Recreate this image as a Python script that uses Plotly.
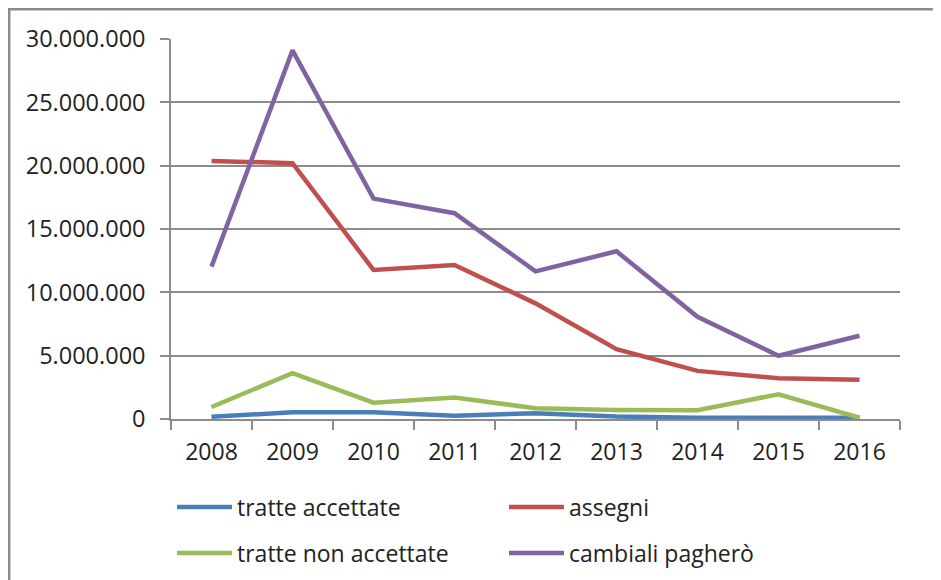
import plotly.graph_objects as go

years = ["2008", "2009", "2010", "2011", "2012", "2013", "2014", "2015", "2016"]
tratte_accettate = [180000, 530000, 530000, 260000, 450000, 200000, 100000, 100000, 100000]
assegni = [20370000, 20200000, 11770000, 12160000, 9130000, 5510000, 3800000, 3220000, 3090000]
tratte_non_accettate = [950000, 3620000, 1290000, 1690000, 850000, 710000, 690000, 1950000, 100000]
cambiali_paghero = [12030000, 29100000, 17400000, 16250000, 11660000, 13240000, 8070000, 4990000, 6570000]
y_ticks = [0, 5000000, 10000000, 15000000, 20000000, 25000000, 30000000]

series = [
    ("tratte accettate", tratte_accettate, "#4A7EBB", "legend"),
    ("assegni", assegni, "#C0504D", "legend"),
    ("tratte non accettate", tratte_non_accettate, "#9BBB59", "legend2"),
    ("cambiali pagherò", cambiali_paghero, "#8064A2", "legend2"),
]

FONT = "Open Sans, Liberation Sans, sans-serif"
TXT = "#222222"

fig = go.Figure()
for name, vals, col, lg in series:
    fig.add_trace(go.Scatter(x=years, y=vals, name=name, mode="lines",
                             line=dict(color=col, width=4.5), legend=lg))

# page body margin offsets the figure by 8px; positions below are in screen pixels
OFF = 8
W, H = 941, 580
L, R, T, B = 171 - OFF, 900 - OFF, 39 - OFF, 419 - OFF
pw, ph = R - L, B - T

def px(x):
    return (x - OFF - L) / pw

def py(y):
    return (B - (y - OFF)) / ph

legend_common = dict(orientation="h", xanchor="left", yanchor="middle",
                     font=dict(family=FONT, size=23, color=TXT),
                     entrywidth=262, entrywidthmode="pixels", itemwidth=55,
                     bgcolor="rgba(0,0,0,0)", borderwidth=0)

fig.update_layout(
    width=W, height=H,
    margin=dict(l=L, r=W - R, t=T, b=H - B, pad=0, autoexpand=False),
    paper_bgcolor="white", plot_bgcolor="white",
    separators=",.",
    font=dict(family=FONT, size=23, color=TXT),
    showlegend=True,
    legend=dict(x=px(172), y=py(507), **legend_common),
    legend2=dict(x=px(172), y=py(553), **legend_common),
    xaxis=dict(type="category", showgrid=False, showline=True, linecolor="#8C8C8C",
               linewidth=1.5, ticks="outside", tickson="boundaries", ticklen=9,
               tickcolor="#8C8C8C", tickwidth=1.5, ticklabelstandoff=12,
               tickfont=dict(family=FONT, size=23, color=TXT), fixedrange=True,
               range=[-0.5, 8.5], automargin=False),
    yaxis=dict(range=[0, 30000000], tickvals=y_ticks, tickformat=",d",
               showgrid=True, gridcolor="#8C8C8C", gridwidth=1.5, zeroline=False,
               showline=True, linecolor="#8C8C8C", linewidth=1.5,
               ticks="outside", ticklen=9, tickcolor="#8C8C8C", tickwidth=1.5,
               ticklabelstandoff=10, automargin=False,
               tickfont=dict(family=FONT, size=23.5, color=TXT), fixedrange=True),
    shapes=[dict(type="rect", xref="paper", yref="paper",
                 x0=px(9.2), x1=px(980), y0=py(620), y1=py(9.2),
                 line=dict(color="#8A8A8A", width=2.5), fillcolor="rgba(0,0,0,0)",
                 layer="below")],
)

fig.write_html("out.html")
